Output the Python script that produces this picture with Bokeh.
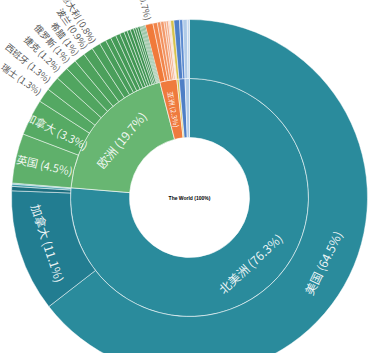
import math
from bokeh.plotting import figure
from bokeh.models import ColumnDataSource
from bokeh.core.properties import value
from bokeh.embed import file_html
from bokeh.resources import INLINE

# ---------------- data ----------------
center_label = "The World (100%)"
continents = ["北美洲", "欧洲", "亚洲", "大洋洲", "南美洲", "非洲"]
continent_values = [76.3, 19.7, 2.3, 0.3, 0.8, 0.6]

na_countries = ["美国", "加拿大", "墨西哥", "古巴", "巴拿马"]
na_values = [64.5, 11.1, 0.4, 0.2, 0.1]

eu_countries = ["英国", "加拿大", "瑞士", "西班牙", "捷克", "俄罗斯", "希腊", "波兰", "意大利",
                "荷兰", "瑞典", "比利时", "奥地利", "挪威", "丹麦", "芬兰", "葡萄牙", "爱尔兰",
                "匈牙利", "罗马尼亚", "乌克兰", "克罗地亚", "塞尔维亚", "斯洛伐克", "保加利亚"]
eu_values = [4.5, 3.3, 1.3, 1.3, 1.2, 1.0, 1.0, 0.9, 0.8,
             0.6, 0.5, 0.5, 0.4, 0.4, 0.3, 0.3, 0.3, 0.2,
             0.2, 0.2, 0.1, 0.1, 0.1, 0.1, 0.1]

as_countries = ["日本", "中国", "韩国", "印度", "以色列", "新加坡", "泰国", "土耳其"]
as_values = [0.7, 0.4, 0.3, 0.3, 0.2, 0.2, 0.1, 0.1]

oc_countries = ["澳大利亚"]
oc_values = [0.3]

sa_countries = ["巴西", "阿根廷"]
sa_values = [0.5, 0.3]

af_countries = ["南非", "埃及"]
af_values = [0.4, 0.2]

country_groups = [(na_countries, na_values), (eu_countries, eu_values), (as_countries, as_values),
                  (oc_countries, oc_values), (sa_countries, sa_values), (af_countries, af_values)]

# ---------------- styles ----------------
continent_colors = ["#2a8b9c", "#68b672", "#ef7b3e", "#d8c24c", "#4f7fc6", "#b0cbe8"]


def lerp_hex(c1, c2, t):
    a = [int(c1[i:i + 2], 16) for i in (1, 3, 5)]
    b = [int(c2[i:i + 2], 16) for i in (1, 3, 5)]
    return "#%02x%02x%02x" % tuple(int(round(a[k] + (b[k] - a[k]) * t)) for k in range(3))


def shades(n, c1, c2):
    if n == 1:
        return [c1]
    return [lerp_hex(c1, c2, i / (n - 1)) for i in range(n)]


na_colors = ["#2a8b9c", "#227d91", "#1d6f80", "#3d9aa8", "#5aa9b5"]
eu_colors = ["#5fb06b"] + shades(len(eu_values) - 1, "#56aa64", "#2f8546")
as_colors = shades(len(as_values), "#f07a3a", "#f5c3ad")
oc_colors = ["#d8c24c"]
sa_colors = ["#4f7fc6", "#5b8ad0"]
af_colors = ["#b0cbe8", "#c6d9ee"]
country_colors = [na_colors, eu_colors, as_colors, oc_colors, sa_colors, af_colors]

R0, R1, R2 = 60, 119, 178
FONT = value("Noto Sans CJK SC")

W, H = 373, 353
CX, CY = 189, 197

p = figure(width=W, height=H, output_backend="svg", toolbar_location=None,
           x_range=(-CX, W - CX), y_range=(-(H - CY), CY), min_border=0)
p.axis.visible = False
p.grid.visible = False
p.outline_line_color = None
p.background_fill_color = "white"
p.border_fill_color = "white"


def ang(pct):
    return math.pi / 2 - 2 * math.pi * pct / 100.0


def norm_deg(a):
    while a > 90:
        a -= 180
    while a <= -90:
        a += 180
    return a


# inner ring
cs = dict(start=[], end=[], color=[])
acc = 0.0
inner_spans = []
for v, c in zip(continent_values, continent_colors):
    cs["start"].append(ang(acc))
    cs["end"].append(ang(acc + v))
    cs["color"].append(c)
    inner_spans.append((acc, acc + v))
    acc += v
p.annular_wedge(x=0, y=0, inner_radius=R0, outer_radius=R1, start_angle="start", end_angle="end",
                direction="clock", fill_color="color", line_color="white", line_alpha=0.6,
                line_width=1, source=ColumnDataSource(cs))

# outer ring
os_ = dict(start=[], end=[], color=[])
outer_items = []
for (names, vals), cols, (s0, _) in zip(country_groups, country_colors, inner_spans):
    acc = s0
    for n, v, c in zip(names, vals, cols):
        os_["start"].append(ang(acc))
        os_["end"].append(ang(acc + v))
        os_["color"].append(c)
        outer_items.append((n, v, acc, acc + v))
        acc += v
p.annular_wedge(x=0, y=0, inner_radius=R1, outer_radius=R2, start_angle="start", end_angle="end",
                direction="clock", fill_color="color", line_color="white", line_alpha=0.6,
                line_width=0.8, source=ColumnDataSource(os_))


def fmt(v):
    return ("%.1f" % v).rstrip("0").rstrip(".")


labels_in = dict(x=[], y=[], text=[], angle=[], size=[])
labels_out = dict(x=[], y=[], text=[], angle=[], align=[])


def add_inside(name, v, a0, a1, r_in, r_out):
    mid = (a0 + a1) / 2
    phi = 90 - mid * 3.6
    r = (r_in + r_out) / 2
    x = r * math.cos(math.radians(phi))
    y = r * math.sin(math.radians(phi))
    if v > 10:
        a = norm_deg(phi + 90)
        size = "12px"
    elif v >= 3:
        a = norm_deg(phi)
        size = "11px"
    else:
        a = norm_deg(phi)
        size = "7px"
    labels_in["x"].append(x)
    labels_in["y"].append(y)
    labels_in["text"].append("%s (%s%%)" % (name, fmt(v)))
    labels_in["angle"].append(math.radians(a))
    labels_in["size"].append(size)


def add_outside(name, v, a0, a1):
    mid = (a0 + a1) / 2
    phi = 90 - mid * 3.6
    r = R2 + 4
    x = r * math.cos(math.radians(phi))
    y = r * math.sin(math.radians(phi))
    if math.cos(math.radians(phi)) >= 0:
        a, al = phi, "left"
    else:
        a, al = phi + 180, "right"
    labels_out["x"].append(x)
    labels_out["y"].append(y)
    labels_out["text"].append("%s (%s%%)" % (name, fmt(v)))
    labels_out["angle"].append(math.radians(norm_deg(a)))
    labels_out["align"].append(al)


for name, v, (a0, a1) in zip(continents, continent_values, inner_spans):
    if v >= 2:
        add_inside(name, v, a0, a1, R0, R1)

for name, v, a0, a1 in outer_items:
    if v >= 3:
        add_inside(name, v, a0, a1, R1, R2)
    elif v >= 0.7:
        add_outside(name, v, a0, a1)

p.text(x="x", y="y", text="text", angle="angle", text_font_size="size",
       source=ColumnDataSource(labels_in),
       text_font=FONT, text_color="white", text_alpha=0.92, text_align="center",
       text_baseline="middle")
p.text(x="x", y="y", text="text", angle="angle", text_align="align", source=ColumnDataSource(labels_out),
       text_font=FONT, text_font_size="9px", text_color="#555555", text_baseline="middle")

p.text(x=[0], y=[0], text=[center_label], text_font=value("Liberation Sans"), text_font_size="5px",
       text_font_style="bold", text_color="black", text_align="center", text_baseline="middle")

open("out.html", "w").write(file_html(p, INLINE))
